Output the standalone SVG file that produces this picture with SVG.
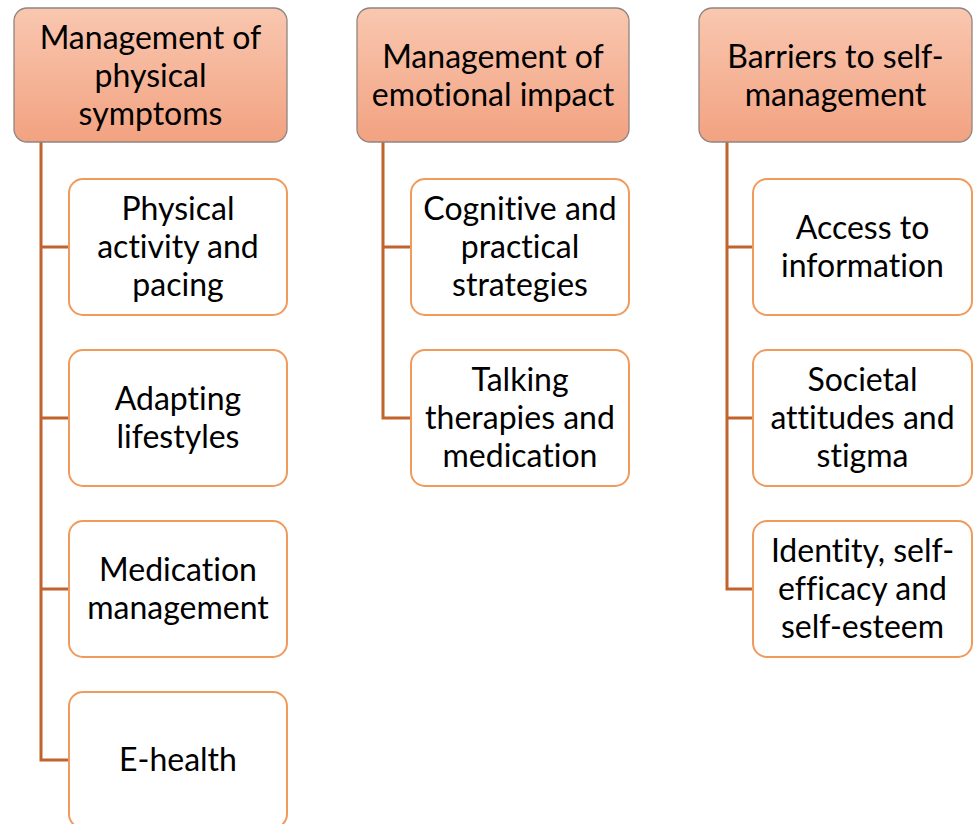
<svg xmlns="http://www.w3.org/2000/svg" width="975" height="824" viewBox="0 0 975 824">
<defs>
<linearGradient id="hg" x1="0" y1="0" x2="0" y2="1">
<stop offset="0" stop-color="#f9c7b0"/>
<stop offset="1" stop-color="#f2a281"/>
</linearGradient>
<style>
.hd{fill:url(#hg);stroke:#8f8580;stroke-width:1.3}
.ch{fill:#fff;stroke:#f09a5c;stroke-width:2}
.t{font-family:Lato,"Open Sans",sans-serif;font-size:32px;fill:#000;text-anchor:middle;dominant-baseline:central;font-variant-ligatures:none}
.cn{fill:none;stroke:#c0632c;stroke-width:3}
</style>
</defs>
<rect width="975" height="824" fill="#fff"/>
<g id="connectors">
<path class="cn" d="M41 142V760H69M41 247H69M41 418H69M41 589H69"/>
<path class="cn" d="M383 142V418H411M383 247H411"/>
<path class="cn" d="M727 142V589H753M727 247H753M727 418H753"/>
</g>
<g id="h1"><rect class="hd" x="14" y="8" width="273" height="134" rx="13"/>
<text class="t" x="150.5" y="36">Management of</text><text class="t" x="150.5" y="74">physical</text><text class="t" x="150.5" y="112">symptoms</text></g>
<g id="h2"><rect class="hd" x="357" y="8" width="272" height="134" rx="13"/>
<text class="t" x="493" y="55">Management of</text><text class="t" x="493" y="93">emotional impact</text></g>
<g id="h3"><rect class="hd" x="699" y="8" width="273" height="134" rx="13"/>
<text class="t" x="835.5" y="55">Barriers to self-</text><text class="t" x="835.5" y="93">management</text></g>
<g id="c1a"><rect class="ch" x="69" y="179" width="218" height="136" rx="14"/>
<text class="t" x="178" y="207">Physical</text><text class="t" x="178" y="245">activity and</text><text class="t" x="178" y="283">pacing</text></g>
<g id="c1b"><rect class="ch" x="69" y="350" width="218" height="136" rx="14"/>
<text class="t" x="178" y="397">Adapting</text><text class="t" x="178" y="435">lifestyles</text></g>
<g id="c1c"><rect class="ch" x="69" y="521" width="218" height="136" rx="14"/>
<text class="t" x="178" y="568">Medication</text><text class="t" x="178" y="606">management</text></g>
<g id="c1d"><rect class="ch" x="69" y="692" width="218" height="136" rx="14"/>
<text class="t" x="178" y="758">E-health</text></g>
<g id="c2a"><rect class="ch" x="411" y="179" width="218" height="136" rx="14"/>
<text class="t" x="520" y="207">Cognitive and</text><text class="t" x="520" y="245">practical</text><text class="t" x="520" y="283">strategies</text></g>
<g id="c2b"><rect class="ch" x="411" y="350" width="218" height="136" rx="14"/>
<text class="t" x="520" y="378">Talking</text><text class="t" x="520" y="416">therapies and</text><text class="t" x="520" y="454">medication</text></g>
<g id="c3a"><rect class="ch" x="753" y="179" width="219" height="136" rx="14"/>
<text class="t" x="862.5" y="226">Access to</text><text class="t" x="862.5" y="264">information</text></g>
<g id="c3b"><rect class="ch" x="753" y="350" width="219" height="136" rx="14"/>
<text class="t" x="862.5" y="378">Societal</text><text class="t" x="862.5" y="416">attitudes and</text><text class="t" x="862.5" y="454">stigma</text></g>
<g id="c3c"><rect class="ch" x="753" y="521" width="219" height="136" rx="14"/>
<text class="t" x="862.5" y="549">Identity, self-</text><text class="t" x="862.5" y="587">efficacy and</text><text class="t" x="862.5" y="625">self-esteem</text></g>
</svg>
